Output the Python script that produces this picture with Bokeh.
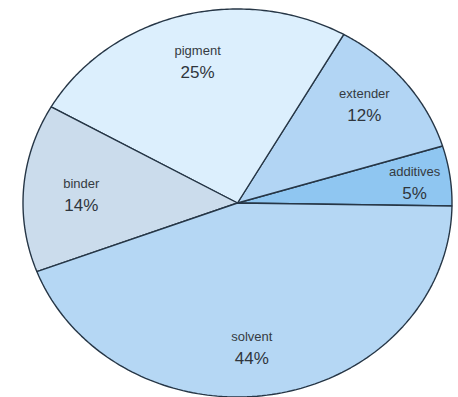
import numpy as np
from bokeh.plotting import figure
from bokeh.models import Range1d, ColumnDataSource
from bokeh.core.properties import value
from bokeh.embed import file_html
from bokeh.resources import INLINE

# data
categories = ["additives", "extender", "pigment", "binder", "solvent"]
percents = [5, 12, 25, 14, 44]
colors = ["#8fc6f1", "#b2d5f4", "#dceffd", "#cbdcec", "#b5d7f4"]

# layout (not data)
start_deg = -0.9
cx, cy, rx, ry = 237.0, 202.5, 214.5, 194.0
label_frac = 0.74
label_nudge = [(20, 0), (3, -9), (2, -3), (2, 3), (-13, 3)]

W, H = 458, 397
p = figure(width=W, height=H, output_backend="svg", toolbar_location=None,
           x_range=Range1d(0, W), y_range=Range1d(H, 0),
           min_border=0, background_fill_color="white")
p.axis.visible = False
p.grid.visible = False
p.outline_line_color = None

total = float(sum(percents))
xs, ys, lx, ly = [], [], [], []
a0 = start_deg
for pct, (ndx, ndy) in zip(percents, label_nudge):
    a1 = a0 + 360.0 * pct / total
    t = np.radians(np.linspace(a0, a1, 120))
    px = [cx] + list(cx + rx * np.cos(t)) + [cx]
    py = [cy] + list(cy - ry * np.sin(t)) + [cy]
    xs.append(px)
    ys.append(py)
    m = np.radians((a0 + a1) / 2)
    lx.append(cx + rx * label_frac * np.cos(m) + ndx)
    ly.append(cy - ry * label_frac * np.sin(m) + ndy)
    a0 = a1

src = ColumnDataSource(dict(xs=xs, ys=ys, color=colors))
p.patches("xs", "ys", source=src, fill_color="color", line_color="#263646", line_width=1.4)

pct_txt = [f"{v}%" for v in percents]
name_y = [y - 11 for y in ly]
pct_y = [y + 11 for y in ly]
p.text(x=lx, y=name_y, text=categories, text_align="center", text_baseline="middle",
       text_font=value("Liberation Sans"), text_font_size="13px", text_color="#353b42")
p.text(x=lx, y=pct_y, text=pct_txt, text_align="center", text_baseline="middle",
       text_font=value("Liberation Sans"), text_font_size="17px", text_color="#2f353c")

open("out.html", "w").write(file_html(p, INLINE))
